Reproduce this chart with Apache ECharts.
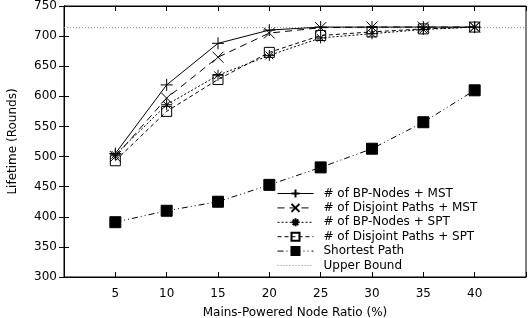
<!DOCTYPE html>
<html>
<head>
    <meta charset="utf-8">
    <script src="https://cdn.jsdelivr.net/npm/echarts@6/dist/echarts.min.js"></script>
</head>
<body style="margin:0">
    <div id="main" style="width:532px;height:318px;"></div>
    <script type="text/javascript">
        // values
        var ratios = [5, 10, 15, 20, 25, 30, 35, 40];
        var bpMst = [505, 619, 688, 710, 715, 715, 715, 715];
        var djMst = [500, 597, 665, 705, 714, 715, 715, 715];
        var bpSpt = [503, 586, 635, 668, 697, 704, 711, 715];
        var djSpt = [493, 575, 628, 673, 701, 707, 712, 715];
        var shortest = [391, 410, 425, 453, 482, 513, 557, 610];
        var upperBound = 714;
        var yTicks = [300, 750, 50];

        function pairs(vals) {
            return ratios.map(function (r, i) { return [r, vals[i]]; });
        }

        var font = 'DejaVu Sans';
        var myChart = echarts.init(document.getElementById('main'));

        function lineSeries(name, vals, symbol, size, dash, fill) {
            return {
                name: name,
                type: 'line',
                data: pairs(vals),
                symbol: symbol,
                symbolSize: size,
                showSymbol: true,
                lineStyle: { color: '#000', width: 1, type: dash },
                itemStyle: { color: fill, borderColor: '#000', borderWidth: 1 },
                emphasis: { disabled: true },
                z: 3
            };
        }

        var option = {
            animation: false,
            backgroundColor: '#fff',
            textStyle: { fontFamily: font },
            grid: {
                left: 64, right: 6, top: 6, bottom: 41,
                outerBoundsMode: 'none', containLabel: false,
                show: true, borderColor: '#000', borderWidth: 1
            },
            legend: {
                left: 272,
                top: 182,
                orient: 'vertical',
                align: 'left',
                itemWidth: 36,
                itemHeight: 10,
                itemGap: 1.4,
                lineStyle: { width: 1 },
                textStyle: { fontFamily: font, fontSize: 12, lineHeight: 13, color: '#000', padding: [0, 0, 0, 5] },
                data: ['# of BP-Nodes + MST', '# of Disjoint Paths + MST', '# of BP-Nodes + SPT',
                       '# of Disjoint Paths + SPT', 'Shortest Path',
                       { name: 'Upper Bound', itemStyle: { opacity: 0 } }]
            },
            xAxis: [{
                type: 'value',
                min: 0, max: 45, interval: 5,
                name: 'Mains-Powered Node Ratio (%)',
                nameLocation: 'middle',
                nameGap: 30,
                nameTextStyle: { fontFamily: font, fontSize: 12, color: '#000' },
                axisLine: { lineStyle: { color: '#000' } },
                axisTick: { inside: true, length: 5, lineStyle: { color: '#000' } },
                axisLabel: {
                    fontFamily: font, fontSize: 12, color: '#000', margin: 11,
                    formatter: function (v) { return (v === 0 || v === 45) ? '' : v; }
                },
                splitLine: { show: false }
            }, {
                type: 'value', position: 'top',
                min: 0, max: 45, interval: 5,
                axisLine: { lineStyle: { color: '#000' } },
                axisTick: { inside: true, length: 5, lineStyle: { color: '#000' } },
                axisLabel: { show: false },
                splitLine: { show: false }
            }],
            yAxis: [{
                type: 'value',
                min: yTicks[0], max: yTicks[1], interval: yTicks[2],
                name: 'Lifetime (Rounds)',
                nameLocation: 'middle',
                nameGap: 45,
                nameTextStyle: { fontFamily: font, fontSize: 12, color: '#000' },
                axisLine: { show: true, lineStyle: { color: '#000' } },
                axisTick: { show: true, inside: true, length: 5, lineStyle: { color: '#000' } },
                axisLabel: { fontFamily: font, fontSize: 12, color: '#000', margin: 7 },
                splitLine: { show: false }
            }, {
                type: 'value', position: 'right',
                min: yTicks[0], max: yTicks[1], interval: yTicks[2],
                axisLine: { show: true, lineStyle: { color: '#000' } },
                axisTick: { show: true, inside: true, length: 5, lineStyle: { color: '#000' } },
                axisLabel: { show: false },
                splitLine: { show: false }
            }],
            series: [
                lineSeries('# of BP-Nodes + MST', bpMst, 'path://M0,5L10,5M5,0L5,10', 12, 'solid', 'none'),
                lineSeries('# of Disjoint Paths + MST', djMst, 'path://M0,0L10,10M0,10L10,0', 11, [7, 5], 'none'),
                lineSeries('# of BP-Nodes + SPT', bpSpt, 'path://M0,5L10,5M5,0L5,10M1.5,1.5L8.5,8.5M1.5,8.5L8.5,1.5', 11, [2, 2], 'none'),
                lineSeries('# of Disjoint Paths + SPT', djSpt, 'path://M0,0L10,0L10,10L0,10Z', 10, [4, 3], 'none'),
                lineSeries('Shortest Path', shortest, 'rect', 11, [6, 3, 1, 3, 1, 3], '#000'),
                {
                    name: 'Upper Bound',
                    type: 'line',
                    data: [[0, upperBound], [45, upperBound]],
                    symbol: 'none',
                    lineStyle: { color: '#888', width: 1, type: [1, 2] },
                    itemStyle: { color: '#888' },
                    emphasis: { disabled: true },
                    z: 2
                }
            ]
        };
        myChart.setOption(option);
    </script>
</body>
</html>
